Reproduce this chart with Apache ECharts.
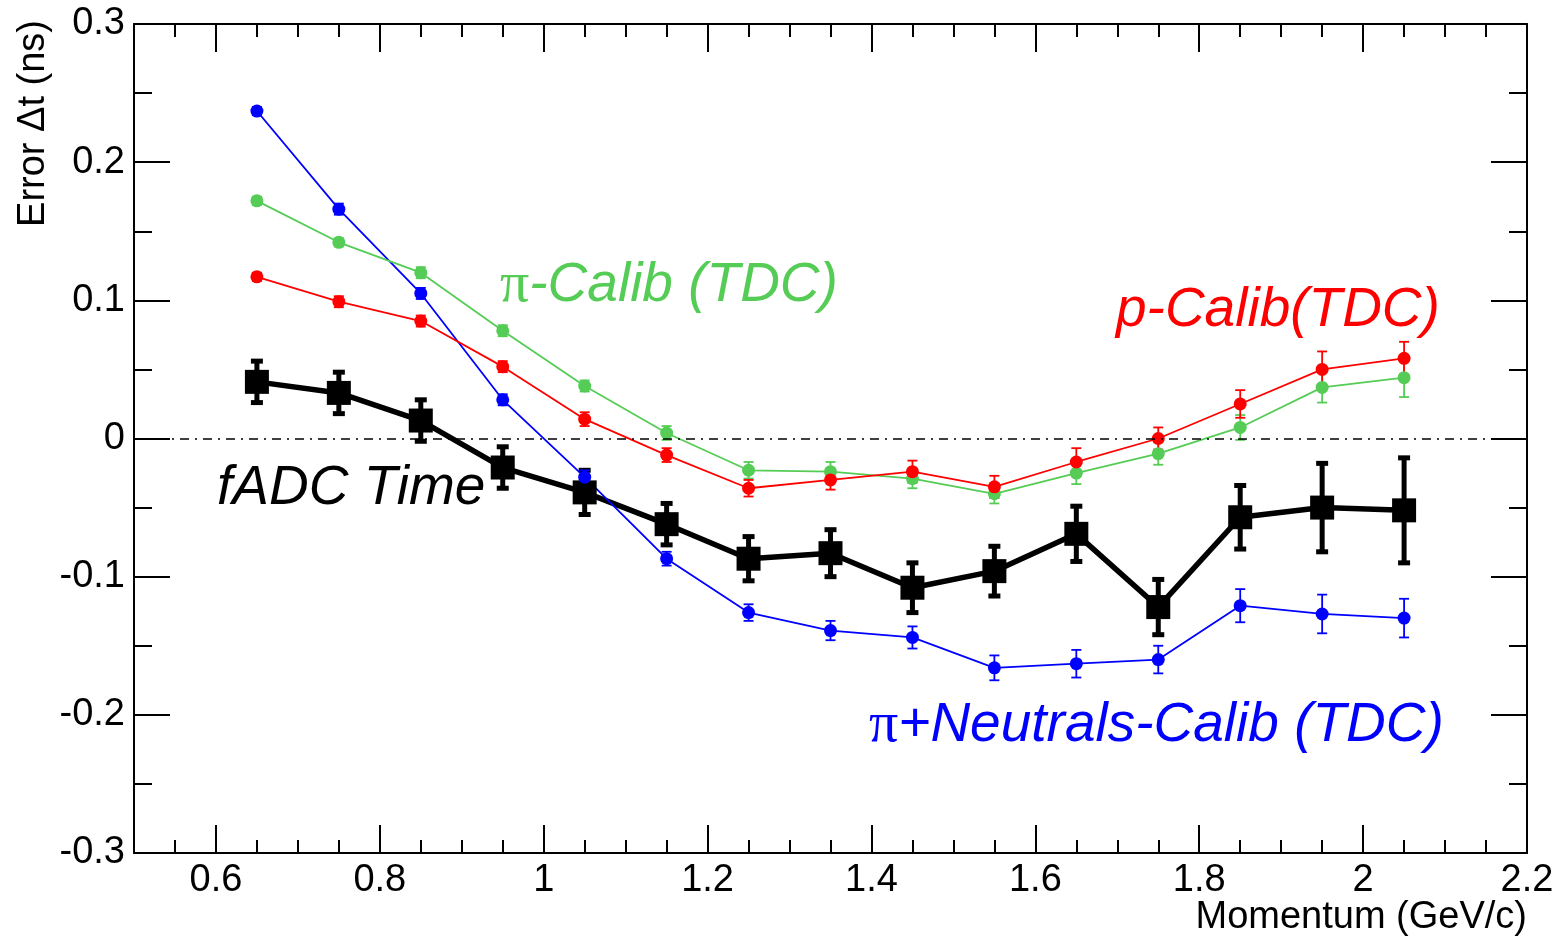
<!DOCTYPE html>
<html>
<head>
<meta charset="utf-8">
<script src="https://cdn.jsdelivr.net/npm/echarts@6/dist/echarts.min.js"></script>
<style>
html,body{margin:0;padding:0;background:#fff;}
#chart{width:1563px;height:941px;}
</style>
</head>
<body>
<div id="chart"></div>
<script>
// ---- data ----
const momentum = [0.65, 0.75, 0.85, 0.95, 1.05, 1.15, 1.25, 1.35, 1.45, 1.55, 1.65, 1.75, 1.85, 1.95, 2.05];
const fadcTime = [0.041, 0.033, 0.013, -0.021, -0.039, -0.062, -0.087, -0.083, -0.108, -0.096, -0.069, -0.122, -0.057, -0.050, -0.052];
const fadcErr  = [0.015, 0.015, 0.015, 0.015, 0.016, 0.015, 0.016, 0.017, 0.018, 0.018, 0.020, 0.020, 0.023, 0.032, 0.038];
const piCalib  = [0.172, 0.142, 0.120, 0.078, 0.038, 0.004, -0.023, -0.024, -0.029, -0.040, -0.025, -0.011, 0.008, 0.037, 0.044];
const piErr    = [0.003, 0.003, 0.004, 0.004, 0.004, 0.005, 0.006, 0.007, 0.007, 0.007, 0.008, 0.008, 0.009, 0.011, 0.014];
const pCalib   = [0.117, 0.099, 0.085, 0.052, 0.014, -0.012, -0.036, -0.030, -0.024, -0.035, -0.017, 0.000, 0.025, 0.050, 0.058];
const pErr     = [0.003, 0.004, 0.004, 0.004, 0.005, 0.005, 0.006, 0.007, 0.008, 0.008, 0.010, 0.008, 0.010, 0.013, 0.012];
const neutCalib= [0.237, 0.166, 0.105, 0.028, -0.028, -0.087, -0.126, -0.139, -0.144, -0.166, -0.163, -0.160, -0.121, -0.127, -0.130];
const neutErr  = [0.003, 0.004, 0.004, 0.004, 0.005, 0.005, 0.006, 0.007, 0.008, 0.009, 0.010, 0.010, 0.012, 0.014, 0.014];
const xMajorTicks = [0.6, 0.8, 1, 1.2, 1.4, 1.6, 1.8, 2, 2.2];

const FONT = 'Liberation Sans, Arial, Helvetica, sans-serif';
const C_BLACK = '#000000', C_BLUE = '#0000ff', C_GREEN = '#55cc55', C_RED = '#ff0000';

function pts(vals) { return momentum.map((x, i) => [x, vals[i]]); }
function errs(vals, e) { return momentum.map((x, i) => [x, vals[i] - e[i], vals[i] + e[i]]); }

function errSeries(vals, e, color, lw, capHalf) {
  return {
    type: 'custom',
    xAxisIndex: 0, yAxisIndex: 0,
    data: errs(vals, e),
    encode: { x: 0, y: [1, 2] },
    silent: true,
    renderItem: function (params, api) {
      const x = api.value(0);
      const lo = api.coord([x, api.value(1)]);
      const hi = api.coord([x, api.value(2)]);
      const st = { stroke: color, lineWidth: lw };
      return {
        type: 'group',
        children: [
          { type: 'line', shape: { x1: lo[0], y1: lo[1], x2: hi[0], y2: hi[1] }, style: st },
          { type: 'line', shape: { x1: lo[0] - capHalf, y1: lo[1], x2: lo[0] + capHalf, y2: lo[1] }, style: st },
          { type: 'line', shape: { x1: hi[0] - capHalf, y1: hi[1], x2: hi[0] + capHalf, y2: hi[1] }, style: st }
        ]
      };
    }
  };
}
function lineSeries(name, vals, color, lw, symbol, size) {
  return {
    name: name, type: 'line', xAxisIndex: 0, yAxisIndex: 0,
    data: pts(vals),
    symbol: symbol, symbolSize: size, showSymbol: true,
    lineStyle: { color: color, width: lw },
    itemStyle: { color: color, borderWidth: 0 },
    emphasis: { disabled: true },
    silent: true
  };
}

const axisLineStyle = { color: '#000', width: 2 };
const tickStyle = { color: '#000', width: 2 };

const chart = echarts.init(document.getElementById('chart'), null, { renderer: 'canvas' });
const option = {
  animation: false,
  backgroundColor: '#fff',
  grid: { left: 134, right: 36, top: 24, bottom: 88, containLabel: false },
  xAxis: [
    { type: 'value', position: 'bottom', min: 0.5, max: 2.2, interval: 0.05,
      axisLine: { show: true, onZero: false, lineStyle: axisLineStyle },
      axisTick: { show: true, inside: true, length: 13, lineStyle: tickStyle },
      axisLabel: { show: true, customValues: xMajorTicks, margin: 9, color: '#000', fontSize: 38, fontFamily: FONT,
        formatter: v => (Math.abs(v - Math.round(v)) < 1e-9 ? String(Math.round(v)) : v.toFixed(1)) },
      splitLine: { show: false } },
    { type: 'value', position: 'bottom', min: 0.5, max: 2.2,
      axisLine: { show: false, onZero: false },
      axisTick: { show: true, inside: true, length: 28, customValues: xMajorTicks, lineStyle: tickStyle },
      axisLabel: { show: false }, splitLine: { show: false } },
    { type: 'value', position: 'top', min: 0.5, max: 2.2, interval: 0.05,
      axisLine: { show: true, onZero: false, lineStyle: axisLineStyle },
      axisTick: { show: true, inside: true, length: 13, lineStyle: tickStyle },
      axisLabel: { show: false }, splitLine: { show: false } },
    { type: 'value', position: 'top', min: 0.5, max: 2.2,
      axisLine: { show: false, onZero: false },
      axisTick: { show: true, inside: true, length: 28, customValues: xMajorTicks, lineStyle: tickStyle },
      axisLabel: { show: false }, splitLine: { show: false } }
  ],
  yAxis: [
    { type: 'value', position: 'left', min: -0.3, max: 0.3, interval: 0.1,
      axisLine: { show: true, onZero: false, lineStyle: axisLineStyle },
      axisTick: { show: true, inside: true, length: 36, lineStyle: tickStyle },
      minorTick: { show: true, splitNumber: 2, length: 18, lineStyle: tickStyle },
      axisLabel: { show: true, margin: 9, color: '#000', fontSize: 38, fontFamily: FONT,
        formatter: v => (Math.abs(v) < 1e-9 ? '0' : v.toFixed(1)) },
      splitLine: { show: false }, minorSplitLine: { show: false } },
    { type: 'value', position: 'right', min: -0.3, max: 0.3, interval: 0.1,
      axisLine: { show: true, onZero: false, lineStyle: axisLineStyle },
      axisTick: { show: true, inside: true, length: 36, lineStyle: tickStyle },
      minorTick: { show: true, splitNumber: 2, length: 18, lineStyle: tickStyle },
      axisLabel: { show: false },
      splitLine: { show: false }, minorSplitLine: { show: false } }
  ],
  series: [
    Object.assign(errSeries(fadcTime, fadcErr, C_BLACK, 5, 6), {
      markLine: {
        silent: true, symbol: ['none', 'none'], label: { show: false },
        lineStyle: { color: '#000', width: 1.5, type: [9, 6, 2, 6] },
        data: [{ yAxis: 0 }]
      }
    }),
    lineSeries('fADC Time', fadcTime, C_BLACK, 5.5, 'rect', 24),
    errSeries(neutCalib, neutErr, C_BLUE, 1.8, 5),
    lineSeries('π+Neutrals-Calib (TDC)', neutCalib, C_BLUE, 1.8, 'circle', 13),
    errSeries(piCalib, piErr, C_GREEN, 1.8, 5),
    lineSeries('π-Calib (TDC)', piCalib, C_GREEN, 1.8, 'circle', 13),
    errSeries(pCalib, pErr, C_RED, 1.8, 5),
    lineSeries('p-Calib(TDC)', pCalib, C_RED, 1.8, 'circle', 13)
  ],
  graphic: [
    { type: 'text', left: 500, top: 257, silent: true,
      style: { text: '{p|π}-Calib (TDC)', fill: C_GREEN, font: 'italic 55px ' + FONT,
        rich: { p: { fontFamily: 'Liberation Serif', fontStyle: 'normal', fontSize: 58, fill: C_GREEN } } } },
    { type: 'text', left: 1116, top: 283, silent: true,
      style: { text: 'p-Calib(TDC)', fill: C_RED, font: 'italic 55px ' + FONT } },
    { type: 'text', left: 217, top: 461, silent: true,
      style: { text: 'fADC Time', fill: C_BLACK, font: 'italic 55px ' + FONT } },
    { type: 'text', left: 869, top: 697, silent: true,
      style: { text: '{p|π}+Neutrals-Calib (TDC)', fill: C_BLUE, font: 'italic 55px ' + FONT,
        rich: { p: { fontFamily: 'Liberation Serif', fontStyle: 'normal', fontSize: 58, fill: C_BLUE } } } },
    { type: 'text', right: 36, top: 899, silent: true,
      style: { text: 'Momentum (GeV/c)', fill: '#000', font: '38px ' + FONT } },
    { type: 'text', x: 34, y: 20, rotation: Math.PI / 2, silent: true,
      style: { text: 'Error \u0394t (ns)', fill: '#000', font: '38px ' + FONT, textAlign: 'right', textVerticalAlign: 'middle' } }
  ]
};
chart.setOption(option);
</script>
</body>
</html>
